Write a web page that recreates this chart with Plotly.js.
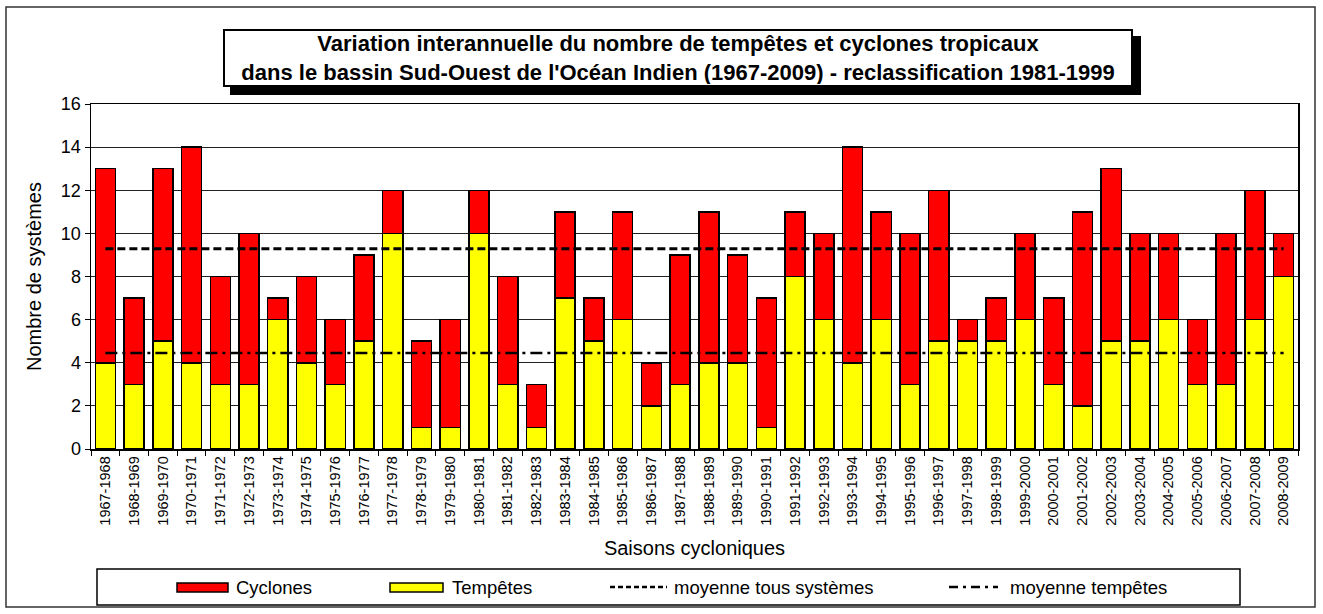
<!DOCTYPE html>
<html>
<head>
<meta charset="utf-8">
<script src="https://cdn.plot.ly/plotly-3.0.1.min.js"></script>
<style>html,body{margin:0;padding:0;background:#fff;}#chart{width:1323px;height:614px;}</style>
</head>
<body>
<div id="chart"></div>
<script>
const saisons = ["1967-1968","1968-1969","1969-1970","1970-1971","1971-1972","1972-1973","1973-1974","1974-1975","1975-1976","1976-1977","1977-1978","1978-1979","1979-1980","1980-1981","1981-1982","1982-1983","1983-1984","1984-1985","1985-1986","1986-1987","1987-1988","1988-1989","1989-1990","1990-1991","1991-1992","1992-1993","1993-1994","1994-1995","1995-1996","1996-1997","1997-1998","1998-1999","1999-2000","2000-2001","2001-2002","2002-2003","2003-2004","2004-2005","2005-2006","2006-2007","2007-2008","2008-2009"];
const tempetes = [4,3,5,4,3,3,6,4,3,5,10,1,1,10,3,1,7,5,6,2,3,4,4,1,8,6,4,6,3,5,5,5,6,3,2,5,5,6,3,3,6,8];
const cyclones = [9,4,8,10,5,7,1,4,3,4,2,4,5,2,5,2,4,2,5,2,6,7,5,6,3,4,10,5,7,7,1,2,4,4,9,8,5,4,3,7,6,2];
const yTicks = [0,2,4,6,8,10,12,14,16];

const titreLignes = ["Variation interannuelle du nombre de tempêtes et cyclones tropicaux",
  "dans le bassin Sud-Ouest de l'Océan Indien (1967-2009) - reclassification 1981-1999"];
const legendeTextes = ["Cyclones","Tempêtes","moyenne tous systèmes","moyenne tempêtes"];

const n = saisons.length;
const totaux = tempetes.map((t,i)=>t+cyclones[i]);
const moyTous = totaux.reduce((a,b)=>a+b,0)/n;
const moyTemp = tempetes.reduce((a,b)=>a+b,0)/n;

const FONT = "Liberation Sans, Arial, sans-serif";
const W = 1323, H = 614;
const M = {l:91, r:25, t:104, b:165};
const PW = W - M.l - M.r, PH = H - M.t - M.b;
const px = x => (x - M.l)/PW;
const py = y => (H - M.b - y)/PH;

const traces = [
  {type:'bar', name:'Tempêtes', x:saisons, y:tempetes, marker:{color:'#FFFF00', line:{color:'#000', width:1.5}}, showlegend:false, hoverinfo:'x+y+name'},
  {type:'bar', name:'Cyclones', x:saisons, y:cyclones, marker:{color:'#FF0000', line:{color:'#000', width:1.5}}, showlegend:false, hoverinfo:'x+y+name'},
  {type:'scatter', mode:'lines', name:'moyenne tous systèmes', x:saisons, y:saisons.map(()=>moyTous), line:{color:'#000', width:3, dash:'8px,4px'}, showlegend:false},
  {type:'scatter', mode:'lines', name:'moyenne tempêtes', x:saisons, y:saisons.map(()=>moyTemp), line:{color:'#000', width:2.5, dash:'12px,5px,3px,5px'}, showlegend:false}
];

const shapes = [
  {type:'rect', xref:'paper', yref:'paper', x0:px(6), x1:px(1315), y0:py(607), y1:py(7), line:{color:'#333', width:1.5}, layer:'below'},
  {type:'rect', xref:'paper', yref:'paper', x0:px(230), x1:px(1141), y0:py(95), y1:py(36), fillcolor:'#000', line:{width:0}},
  {type:'rect', xref:'paper', yref:'paper', x0:px(97), x1:px(1240), y0:py(605), y1:py(569), fillcolor:'#fff', line:{color:'#000', width:1.5}},
  {type:'rect', xref:'paper', yref:'paper', x0:px(177), x1:px(228), y0:py(592), y1:py(583), fillcolor:'#FF0000', line:{color:'#000', width:1.5}},
  {type:'rect', xref:'paper', yref:'paper', x0:px(390), x1:px(443), y0:py(592), y1:py(583), fillcolor:'#FFFF00', line:{color:'#000', width:1.5}},
  {type:'line', xref:'paper', yref:'paper', x0:px(610), x1:px(667), y0:py(587), y1:py(587), line:{color:'#000', width:2.5, dash:'5px,3px'}},
  {type:'line', xref:'paper', yref:'paper', x0:px(949), x1:px(998), y0:py(587), y1:py(587), line:{color:'#000', width:2.5, dash:'9px,5px,3px,5px'}}
];

const LF = 18.5;
const annotations = [
  {xref:'paper', yref:'paper', x:px(678), y:py(58), xanchor:'center', yanchor:'middle', showarrow:false,
   text:'<b>'+titreLignes[0]+'</b><br><b>'+titreLignes[1]+'</b>', align:'center',
   font:{family:FONT, size:22, color:'#000'}, bgcolor:'#fff', bordercolor:'#000', borderwidth:2, borderpad:1, width:904, height:52},
  {xref:'paper', yref:'paper', x:px(234), y:py(587), xanchor:'left', yanchor:'middle', showarrow:false, text:legendeTextes[0], font:{family:FONT, size:LF, color:'#000'}},
  {xref:'paper', yref:'paper', x:px(450), y:py(587), xanchor:'left', yanchor:'middle', showarrow:false, text:legendeTextes[1], font:{family:FONT, size:LF, color:'#000'}},
  {xref:'paper', yref:'paper', x:px(672), y:py(587), xanchor:'left', yanchor:'middle', showarrow:false, text:legendeTextes[2], font:{family:FONT, size:LF, color:'#000'}},
  {xref:'paper', yref:'paper', x:px(1008), y:py(587), xanchor:'left', yanchor:'middle', showarrow:false, text:legendeTextes[3], font:{family:FONT, size:LF, color:'#000'}}
];

const layout = {
  width:W, height:H, margin:M, paper_bgcolor:'#fff', plot_bgcolor:'#fff',
  barmode:'stack', bargap:0.3, showlegend:false,
  font:{family:FONT, color:'#000'},
  xaxis:{type:'category', categoryorder:'array', categoryarray:saisons, tickangle:-90, tickfont:{size:14.5, family:FONT},
    ticks:'outside', tickson:'boundaries', ticklen:5, tickcolor:'#000', showline:true, linecolor:'#000', linewidth:1.5, mirror:true,
    showgrid:false, title:{text:'Saisons cycloniques', font:{size:20, family:FONT}, standoff:16}, automargin:false},
  yaxis:{range:[0,16], tickvals:yTicks, ticktext:yTicks.map(String), tickfont:{size:18, family:FONT}, ticks:'outside', ticklen:5, tickcolor:'#000',
    showline:true, linecolor:'#000', linewidth:1.5, mirror:true, showgrid:true, gridcolor:'#222', gridwidth:1, zeroline:false,
    title:{text:'Nombre de systèmes', font:{size:20, family:FONT}, standoff:14}, automargin:false},
  shapes:shapes, annotations:annotations
};

Plotly.newPlot('chart', traces, layout, {displayModeBar:false, staticPlot:true});
</script>
</body>
</html>
